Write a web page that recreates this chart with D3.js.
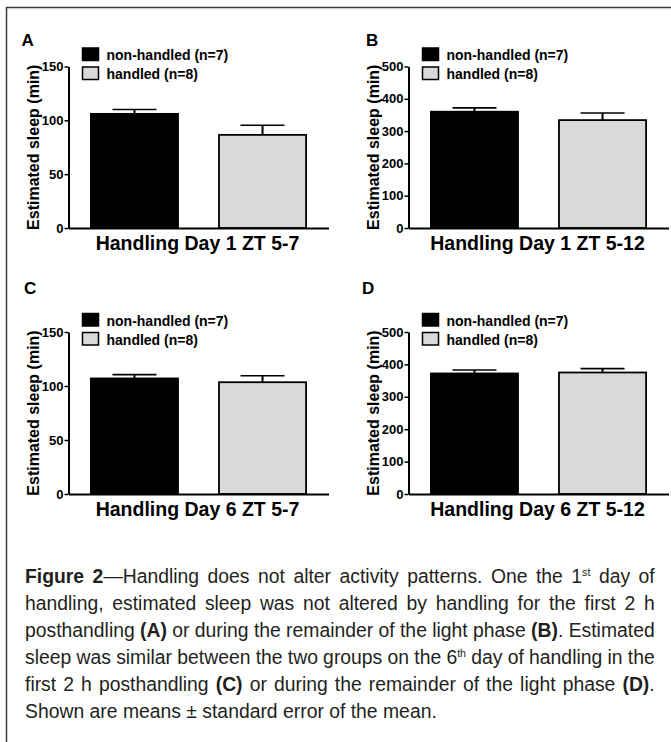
<!DOCTYPE html>
<html>
<head>
    <meta charset="utf-8" />
    <title>Figure 2 - Estimated sleep</title>
    <style>
        body { margin: 0; background: #fff; }
        #figure { width: 671px; height: 742px; }
        text { font-family: "Liberation Sans", Arial, sans-serif; }
    </style>
</head>
<body>
    <div id="figure"></div>
    <script type="text/javascript" src="https://cdnjs.cloudflare.com/ajax/libs/d3/7.8.5/d3.min.js"></script>
    <script>
        // data
        var groups = ["non-handled (n=7)", "handled (n=8)"]
        var groupColors = ["#000000", "#d9d9d9"]
        var panelLetters = ["A", "B", "C", "D"]
        var panelTitles = ["Handling Day 1 ZT 5-7", "Handling Day 1 ZT 5-12",
                           "Handling Day 6 ZT 5-7", "Handling Day 6 ZT 5-12"]
        var yTicks2h = [0, 50, 100, 150]
        var yTicksRest = [0, 100, 200, 300, 400, 500]
        var meansA = [106, 86.5], semA = [4, 9]
        var meansB = [360, 334], semB = [12, 22]
        var meansC = [107, 103.5], semC = [3.5, 6]
        var meansD = [372, 375], semD = [10.5, 12]
        var yLabel = "Estimated sleep (min)"

        var panels = [
            { letter: panelLetters[0], title: panelTitles[0], ticks: yTicks2h, means: meansA, sem: semA },
            { letter: panelLetters[1], title: panelTitles[1], ticks: yTicksRest, means: meansB, sem: semB },
            { letter: panelLetters[2], title: panelTitles[2], ticks: yTicks2h, means: meansC, sem: semC },
            { letter: panelLetters[3], title: panelTitles[3], ticks: yTicksRest, means: meansD, sem: semD }
        ]
        // where each panel's plot area sits, and its letter
        var layout = [
            { x: 68.5, top: 66.5, bottom: 228, lx: 21.5, ly: 45.5 },
            { x: 408.5, top: 66.5, bottom: 228, lx: 366, ly: 45.5 },
            { x: 68.5, top: 332, bottom: 494, lx: 24, ly: 293.5 },
            { x: 408.5, top: 332, bottom: 494, lx: 362, ly: 293.5 }
        ]
        var plotWidth = 260

        var svg = d3.select("#figure").append("svg")
            .attr("width", 671)
            .attr("height", 742)

        // frame (only top and left edges are in the crop)
        svg.append("path")
            .attr("d", "M6.5,742V7.5H671")
            .attr("fill", "none")
            .attr("stroke", "#3a3a3a")
            .attr("stroke-width", 1.5)

        panels.forEach(function (p, i) {
            var L = layout[i]
            var g = svg.append("g")

            var y = d3.scaleLinear()
                .domain([0, d3.max(p.ticks)])
                .range([L.bottom, L.top])
            var x = d3.scaleBand()
                .domain(groups)
                .range([L.x, L.x + plotWidth])
                .paddingInner(0.32)
                .paddingOuter(0.175)

            // bars
            g.selectAll("rect.bar")
                .data(groups)
                .enter().append("rect")
                .attr("class", "bar")
                .attr("x", function (d) { return x(d) })
                .attr("y", function (d, k) { return y(p.means[k]) })
                .attr("width", x.bandwidth())
                .attr("height", function (d, k) { return L.bottom - y(p.means[k]) })
                .attr("fill", function (d, k) { return groupColors[k] })
                .attr("stroke", "#000")
                .attr("stroke-width", 1.8)

            // error bars (upper half only)
            var eb = g.selectAll("g.err")
                .data(groups)
                .enter().append("g")
                .attr("class", "err")
                .attr("stroke", "#000")
            eb.append("line")
                .attr("x1", function (d) { return x(d) + x.bandwidth() / 2 })
                .attr("x2", function (d) { return x(d) + x.bandwidth() / 2 })
                .attr("y1", function (d, k) { return y(p.means[k]) })
                .attr("y2", function (d, k) { return y(p.means[k] + p.sem[k]) })
                .attr("stroke-width", 2)
            eb.append("line")
                .attr("x1", function (d) { return x(d) + x.bandwidth() / 2 - 22 })
                .attr("x2", function (d) { return x(d) + x.bandwidth() / 2 + 22 })
                .attr("y1", function (d, k) { return y(p.means[k] + p.sem[k]) })
                .attr("y2", function (d, k) { return y(p.means[k] + p.sem[k]) })
                .attr("stroke-width", 1.6)

            // axes
            var yAxis = g.append("g")
                .attr("transform", "translate(" + L.x + ",0)")
                .call(d3.axisLeft(y).tickValues(p.ticks).tickSize(4).tickSizeOuter(0).tickPadding(1))
            var xAxis = g.append("g")
                .attr("transform", "translate(0," + L.bottom + ")")
                .call(d3.axisBottom(x).tickValues([]).tickSizeOuter(0))
            ;[yAxis, xAxis].forEach(function (a) {
                a.select(".domain").attr("stroke-width", 2)
                a.selectAll(".tick line").attr("stroke-width", 1.5)
                a.selectAll("text")
                    .attr("font-family", "'Liberation Sans', Arial, sans-serif")
                    .attr("font-size", 13)
                    .attr("font-weight", "bold")
                    .attr("fill", "#000")
            })

            // axis titles
            g.append("text")
                .attr("transform", "translate(" + (L.x - 29.5) + "," + ((L.top + L.bottom) / 2) + ") rotate(-90)")
                .attr("text-anchor", "middle")
                .attr("font-size", 16)
                .attr("font-weight", "bold")
                .text(yLabel)
            g.append("text")
                .attr("x", L.x + plotWidth / 2 - 1)
                .attr("y", L.bottom + 21.5)
                .attr("text-anchor", "middle")
                .attr("font-size", 19.5)
                .attr("font-weight", "bold")
                .text(p.title)

            // panel letter
            g.append("text")
                .attr("x", L.lx)
                .attr("y", L.ly)
                .attr("font-size", 17)
                .attr("font-weight", "bold")
                .text(p.letter)

            // legend
            var leg = g.selectAll("g.leg")
                .data(groups)
                .enter().append("g")
                .attr("class", "leg")
                .attr("transform", function (d, k) {
                    return "translate(" + (L.x + 14) + "," + (L.top - 18.5 + k * 19) + ")"
                })
            leg.append("rect")
                .attr("width", 16)
                .attr("height", 12.5)
                .attr("fill", function (d, k) { return groupColors[k] })
                .attr("stroke", "#000")
                .attr("stroke-width", 1.5)
            leg.append("text")
                .attr("x", 24)
                .attr("y", 12)
                .attr("font-size", 14)
                .attr("font-weight", "bold")
                .text(function (d) { return d })
        })

        // caption, justified like the printed figure
        var captionLines = [
            [{ t: "Figure 2", b: 1 }, { t: "\u2014Handling does not alter activity patterns. One the 1" }, { t: "st", sup: 1 }, { t: " day of" }],
            [{ t: "handling, estimated sleep was not altered by handling for the first 2 h" }],
            [{ t: "posthandling " }, { t: "(A)", b: 1 }, { t: " or during the remainder of the light phase " }, { t: "(B)", b: 1 }, { t: ". Estimated" }],
            [{ t: "sleep was similar between the two groups on the 6" }, { t: "th", sup: 1 }, { t: " day of handling in the" }],
            [{ t: "first 2 h posthandling " }, { t: "(C)", b: 1 }, { t: " or during the remainder of the light phase " }, { t: "(D)", b: 1 }, { t: "." }],
            [{ t: "Shown are means \u00b1 standard error of the mean." }]
        ]
        var capLeft = 25, capWidth = 630, capTop = 583, capStep = 27
        var lastLineWidth = 412

        var capTexts = captionLines.map(function (parts, i) {
            var t = svg.append("text")
                .attr("font-size", 20)
                .attr("fill", "#231f20")
            var shifted = 0
            parts.forEach(function (part) {
                var s = t.append("tspan").text(part.t)
                if (part.b) s.attr("font-weight", "bold")
                if (part.sup) { s.attr("font-size", 11).attr("dy", -7); shifted = 7 }
                else if (shifted) { s.attr("dy", shifted); shifted = 0 }
            })
            return t
        })
        var widths = capTexts.map(function (t) { return t.node().getComputedTextLength() })
        var sx = lastLineWidth / widths[widths.length - 1]
        capTexts.forEach(function (t, i) {
            t.attr("transform", "translate(" + capLeft + "," + (capTop + i * capStep) + ") scale(" + sx + ",1)")
            if (i < capTexts.length - 1) {
                var full = captionLines[i].map(function (p) { return p.t }).join("")
                var spaces = full.split(" ").length - 1
                t.attr("word-spacing", (capWidth / sx - widths[i]) / spaces)
            }
        })
    </script>
</body>
</html>
